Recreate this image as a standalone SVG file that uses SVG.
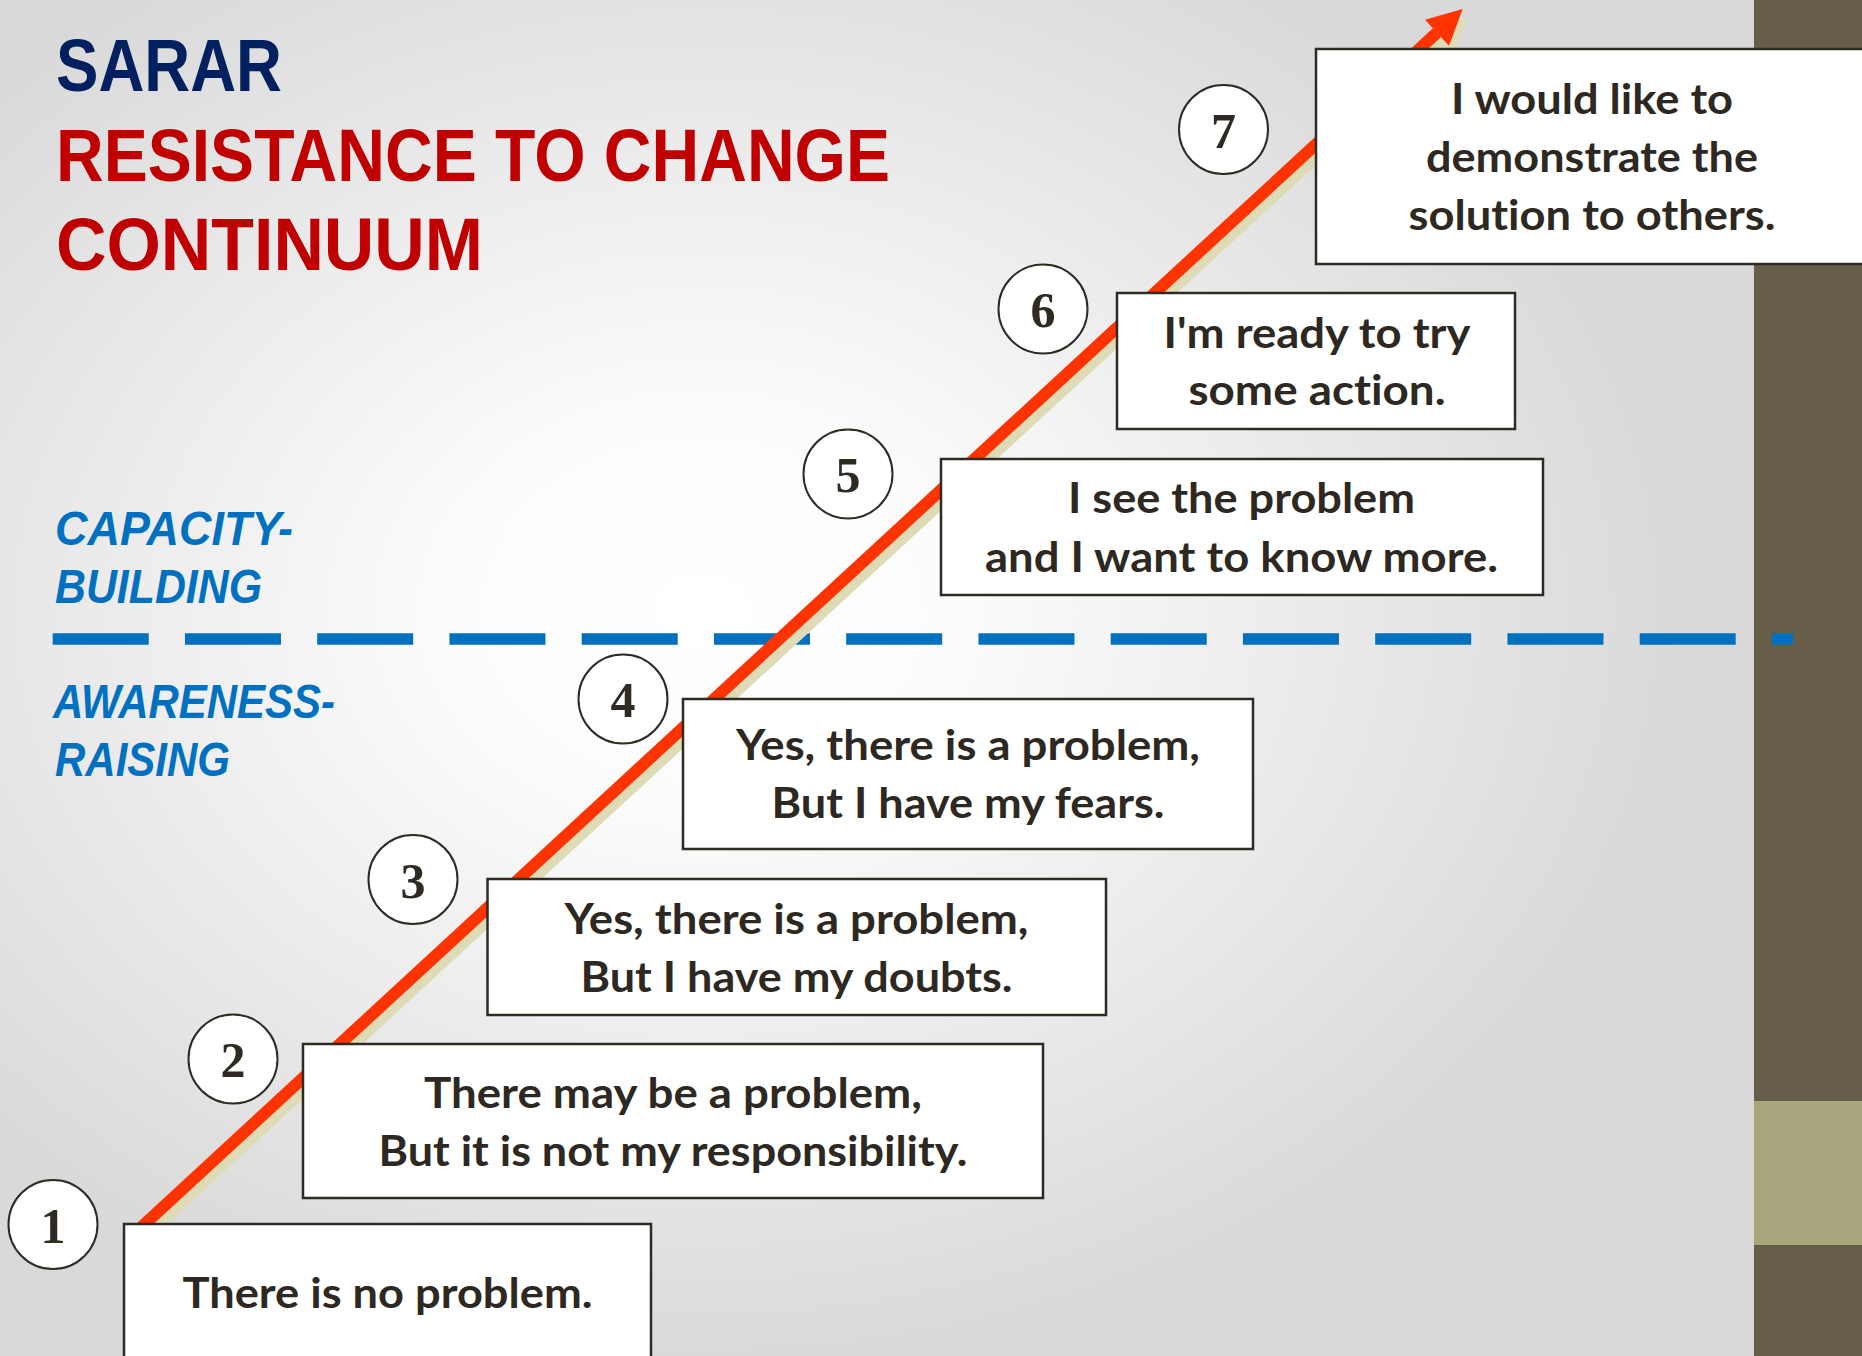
<svg xmlns="http://www.w3.org/2000/svg" width="1862" height="1356" viewBox="0 0 1862 1356">
  <defs>
    <radialGradient id="bg" gradientUnits="objectBoundingBox" cx="0.4" cy="0.45" r="0.56">
      <stop offset="0" stop-color="#FFFFFF"/>
      <stop offset="0.25" stop-color="#FCFCFC"/>
      <stop offset="1" stop-color="#D9D9D9"/>
    </radialGradient>
    <style>
      .box { fill: #FFFFFF; stroke: #2F2B23; stroke-width: 2.5; }
      .circ { fill: #FFFFFF; stroke: #2F2B23; stroke-width: 2; }
      .num { font-family: "Liberation Serif", "DejaVu Serif", serif; font-weight: 700; font-size: 50px; fill: #2F2B23; text-anchor: middle; }
      .txt { font-family: Lato, "Liberation Sans", sans-serif; font-weight: 700; font-size: 42px; fill: #2D2922; text-anchor: middle; font-variant-ligatures: none; font-feature-settings: "liga" 0, "dlig" 0; }
      .title { font-family: "Liberation Sans", Arial, sans-serif; font-weight: 700; font-size: 75px; }
      .side { font-family: "Liberation Sans", Arial, sans-serif; font-weight: 700; font-style: italic; font-size: 49px; fill: #0070C0; }
    </style>
  </defs>

  <!-- background -->
  <rect x="0" y="0" width="1754" height="1356" fill="url(#bg)"/>
  <rect x="1754" y="0" width="108" height="1356" fill="#665E48"/>
  <rect x="1754" y="1101" width="108" height="144" fill="#A8A67C"/>

  <!-- title -->
  <g id="title">
    <text class="title" x="56" y="90.7" fill="#002060" textLength="226" lengthAdjust="spacingAndGlyphs">SARAR</text>
    <text class="title" x="56" y="180.7" fill="#C00000" textLength="834" lengthAdjust="spacingAndGlyphs">RESISTANCE TO CHANGE</text>
    <text class="title" x="56" y="270" fill="#C00000" textLength="427" lengthAdjust="spacingAndGlyphs">CONTINUUM</text>
  </g>

  <!-- side labels -->
  <g id="labels">
    <text class="side" x="55" y="545" textLength="238" lengthAdjust="spacingAndGlyphs">CAPACITY-</text>
    <text class="side" x="55" y="603" textLength="207" lengthAdjust="spacingAndGlyphs">BUILDING</text>
    <text class="side" x="53" y="718.3" textLength="282" lengthAdjust="spacingAndGlyphs">AWARENESS-</text>
    <text class="side" x="55" y="776" textLength="175" lengthAdjust="spacingAndGlyphs">RAISING</text>
  </g>

  <!-- divider -->
  <line id="divider" x1="52.7" y1="639" x2="1793" y2="639" stroke="#0070C0" stroke-width="11.5" stroke-dasharray="96 36.25"/>

  <!-- connectors -->
  <g id="connectors">
    <g transform="translate(5,8)" fill="#DFDBB6" stroke="none">
      <line x1="140" y1="1228.3" x2="1437" y2="32.7" stroke="#DFDBB6" stroke-width="12"/>
      <polygon points="1462.7,9 1425,19.7 1449,45.7"/>
    </g>
    <line x1="140" y1="1228.3" x2="1437" y2="32.7" stroke="#FF3300" stroke-width="12"/>
    <polygon points="1462.7,9 1425,19.7 1449,45.7" fill="#FF3300"/>
  </g>

  <!-- steps -->
  <g id="step1">
    <circle class="circ" cx="53" cy="1224.5" r="44.5"/>
    <text class="num" x="53" y="1242.5">1</text>
    <rect class="box" x="124" y="1224" width="527" height="200"/>
    <text class="txt" x="387.5" y="1308" textLength="410" lengthAdjust="spacingAndGlyphs">There is no problem.</text>
  </g>
  <g id="step2">
    <circle class="circ" cx="233" cy="1059" r="44.5"/>
    <text class="num" x="233" y="1077">2</text>
    <rect class="box" x="303" y="1044" width="740" height="154"/>
    <text class="txt" x="673" y="1108" textLength="498" lengthAdjust="spacingAndGlyphs">There may be a problem,</text>
    <text class="txt" x="673" y="1166" textLength="589" lengthAdjust="spacingAndGlyphs">But it is not my responsibility.</text>
  </g>
  <g id="step3">
    <circle class="circ" cx="413" cy="879.5" r="44.5"/>
    <text class="num" x="413" y="897.5">3</text>
    <rect class="box" x="487.5" y="879" width="618.5" height="136"/>
    <text class="txt" x="796.5" y="934" textLength="464" lengthAdjust="spacingAndGlyphs">Yes, there is a problem,</text>
    <text class="txt" x="796.5" y="992" textLength="432" lengthAdjust="spacingAndGlyphs">But I have my doubts.</text>
  </g>
  <g id="step4">
    <circle class="circ" cx="623" cy="699" r="44.5"/>
    <text class="num" x="623" y="717">4</text>
    <rect class="box" x="683" y="699" width="570" height="150"/>
    <text class="txt" x="968" y="760" textLength="464" lengthAdjust="spacingAndGlyphs">Yes, there is a problem,</text>
    <text class="txt" x="968" y="818" textLength="393" lengthAdjust="spacingAndGlyphs">But I have my fears.</text>
  </g>
  <g id="step5">
    <circle class="circ" cx="848" cy="474" r="44.5"/>
    <text class="num" x="848" y="492">5</text>
    <rect class="box" x="941" y="459" width="602" height="136"/>
    <text class="txt" x="1241.5" y="513" textLength="347" lengthAdjust="spacingAndGlyphs">I see the problem</text>
    <text class="txt" x="1241.5" y="572" textLength="513" lengthAdjust="spacingAndGlyphs">and I want to know more.</text>
  </g>
  <g id="step6">
    <circle class="circ" cx="1043" cy="309" r="44.5"/>
    <text class="num" x="1043" y="327">6</text>
    <rect class="box" x="1117" y="293" width="398" height="136"/>
    <text class="txt" x="1317" y="348" textLength="307" lengthAdjust="spacingAndGlyphs">I'm ready to try</text>
    <text class="txt" x="1317" y="405" textLength="257" lengthAdjust="spacingAndGlyphs">some action.</text>
  </g>
  <g id="step7">
    <circle class="circ" cx="1223.5" cy="129.5" r="44.5"/>
    <text class="num" x="1223.5" y="147.5">7</text>
    <rect class="box" x="1316" y="49" width="560" height="215"/>
    <text class="txt" x="1592" y="114" textLength="282" lengthAdjust="spacingAndGlyphs">I would like to</text>
    <text class="txt" x="1592" y="172" textLength="332" lengthAdjust="spacingAndGlyphs">demonstrate the</text>
    <text class="txt" x="1592" y="230" textLength="367" lengthAdjust="spacingAndGlyphs">solution to others.</text>
  </g>
</svg>
